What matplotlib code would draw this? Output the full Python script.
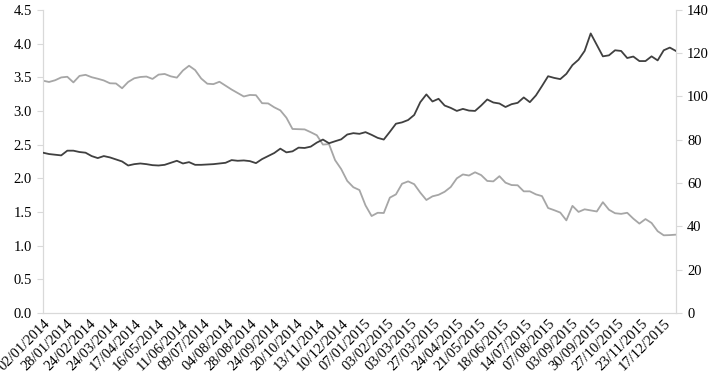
import numpy as np
import matplotlib
matplotlib.use("Agg")
import matplotlib.pyplot as plt

# Tick labels (every 19 trading days)
tick_labels = ["02/01/2014", "28/01/2014", "24/02/2014", "24/03/2014", "17/04/2014",
               "16/05/2014", "11/06/2014", "09/07/2014", "04/08/2014", "28/08/2014",
               "24/09/2014", "20/10/2014", "13/11/2014", "10/12/2014", "07/01/2015",
               "03/02/2015", "03/03/2015", "27/03/2015", "24/04/2015", "21/05/2015",
               "18/06/2015", "14/07/2015", "07/08/2015", "03/09/2015", "30/09/2015",
               "27/10/2015", "23/11/2015", "17/12/2015"]
n_days = 524
tick_step = 19

# Dark series (left axis), sampled evenly over the period
dark_series = [2.38, 2.36, 2.35, 2.34, 2.41, 2.41, 2.39, 2.38, 2.33, 2.30,
               2.33, 2.31, 2.28, 2.25, 2.19, 2.21, 2.22, 2.21, 2.195, 2.19,
               2.20, 2.23, 2.26, 2.22, 2.24, 2.20, 2.20, 2.205, 2.21, 2.22,
               2.23, 2.27, 2.26, 2.265, 2.255, 2.225, 2.285, 2.33, 2.375, 2.44,
               2.385, 2.40, 2.455, 2.45, 2.47, 2.53, 2.575, 2.52, 2.55, 2.578,
               2.65, 2.67, 2.66, 2.685, 2.645, 2.60, 2.575, 2.69, 2.81, 2.83,
               2.865, 2.94, 3.13, 3.245, 3.14, 3.18, 3.08, 3.045, 3.00, 3.03,
               3.005, 3.00, 3.08, 3.17, 3.125, 3.11, 3.058, 3.10, 3.12, 3.20,
               3.13, 3.23, 3.37, 3.515, 3.49, 3.472, 3.55, 3.68, 3.76, 3.89,
               4.15, 3.98, 3.81, 3.825, 3.90, 3.89, 3.785, 3.807, 3.74, 3.74,
               3.81, 3.75, 3.90, 3.94, 3.89]

# Light series (right axis), sampled evenly over the period
light_series = [107.3, 106.7, 107.5, 108.8, 109.1, 106.5, 109.5, 110.0, 108.9, 108.2,
                107.4, 106.1, 106.0, 103.8, 106.7, 108.4, 109.0, 109.2, 108.1, 110.1,
                110.4, 109.3, 108.7, 112.0, 114.2, 112.2, 108.3, 105.9, 105.7, 106.8,
                105.0, 103.2, 101.6, 100.0, 100.7, 100.6, 96.9, 96.8, 95.0, 93.6,
                90.2, 85.0, 84.9, 84.8, 83.5, 82.1, 77.8, 78.0, 70.6, 66.5,
                61.0, 58.1, 56.8, 49.7, 44.8, 46.3, 46.2, 53.3, 54.8, 59.7,
                60.8, 59.5, 55.6, 52.2, 53.9, 54.6, 56.0, 58.2, 62.2, 64.0,
                63.5, 65.0, 63.7, 61.0, 60.8, 63.2, 60.2, 59.1, 59.0, 56.2,
                56.2, 54.8, 54.0, 48.5, 47.5, 46.4, 42.8, 49.5, 46.7, 47.9,
                47.4, 46.9, 51.2, 47.7, 46.1, 45.8, 46.3, 43.6, 41.3, 43.4,
                41.6, 37.8, 35.9, 36.0, 36.2]

plt.rcParams['font.family'] = ['Liberation Serif', 'DejaVu Serif']

fig = plt.figure(figsize=(7.16, 3.79), dpi=100)
ax = fig.add_axes([0.060, 0.174, 0.884, 0.800])
ax2 = ax.twinx()

x_dark = np.linspace(0, n_days - 1, len(dark_series))
x_light = np.linspace(0, n_days - 1, len(light_series))

ax.plot(x_dark, dark_series, color='#404040', lw=1.3, zorder=3)
ax2.plot(x_light, light_series, color='#a6a6a6', lw=1.3, zorder=2)
ax.set_zorder(ax2.get_zorder() + 1)
ax.patch.set_visible(False)

ax.set_xlim(0, n_days - 1)
ax.set_ylim(0, 4.5)
ax2.set_ylim(0, 140)
ax.set_yticks(np.arange(0, 4.51, 0.5))
ax.set_yticklabels([f"{v:.1f}" for v in np.arange(0, 4.51, 0.5)])
ax2.set_yticks(np.arange(0, 141, 20))

ticks = [i * tick_step for i in range(len(tick_labels))]
ax.set_xticks(ticks)
ax.set_xticklabels(tick_labels, rotation=45, ha='right', rotation_mode='anchor')

spine_col = '#d9d9d9'
for a in (ax, ax2):
    for s in a.spines.values():
        s.set_color(spine_col)
    a.spines['top'].set_visible(False)
    a.tick_params(colors='#000000', labelsize=10.5)

ax.tick_params(axis='y', length=4, color=spine_col, pad=4)
ax2.tick_params(axis='y', length=4, color=spine_col, pad=4)
ax.tick_params(axis='x', length=0, pad=3)

fig.savefig('out.png', dpi=100)
